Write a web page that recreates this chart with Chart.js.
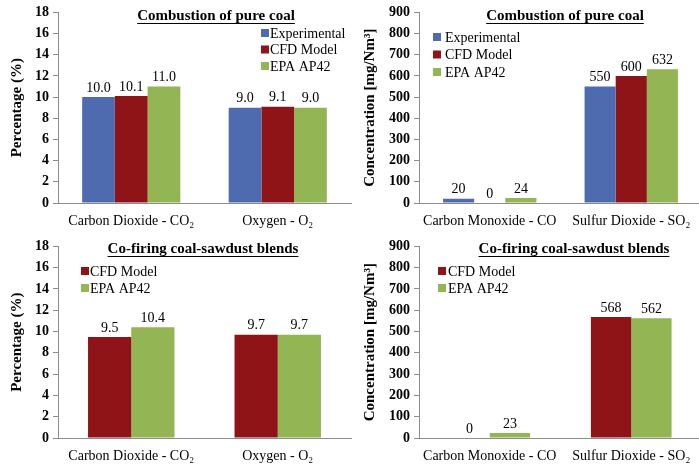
<!DOCTYPE html>
<html>
<head>
<meta charset="utf-8">
<script src="https://cdn.jsdelivr.net/npm/chart.js@4.4.1/dist/chart.umd.min.js"></script>
<style>
  html, body { margin: 0; padding: 0; background: #fff; overflow: hidden; }
  #page { position: relative; width: 699px; height: 467px; overflow: hidden; background: #fff; }
  canvas { position: absolute; }
</style>
</head>
<body>
<div id="page">
  <canvas id="c1" width="352" height="234" style="left:0;top:0"></canvas>
  <canvas id="c2" width="352" height="234" style="left:350px;top:0"></canvas>
  <canvas id="c3" width="352" height="233" style="left:0;top:234px"></canvas>
  <canvas id="c4" width="352" height="233" style="left:350px;top:234px"></canvas>
</div>
<script>
// categories
const gasCategories = ["Carbon Dioxide - CO₂", "Oxygen - O₂"];
const pollutantCategories = ["Carbon Monoxide - CO", "Sulfur Dioxide - SO₂"];

// combustion of pure coal
const pureExpGas = [10.0, 9.0];
const pureCfdGas = [10.1, 9.1];
const pureEpaGas = [11.0, 9.0];
const pureExpPollutant = [20, 550];
const pureCfdPollutant = [0, 600];
const pureEpaPollutant = [24, 632];

// co-firing coal-sawdust blends
const blendCfdGas = [9.5, 9.7];
const blendEpaGas = [10.4, 9.7];
const blendCfdPollutant = [0, 568];
const blendEpaPollutant = [23, 562];

// axes
const percentTicks = { min: 0, max: 18, step: 2 };
const concTicks = { min: 0, max: 900, step: 100 };

const BLUE = "#4f6bb0";
const RED = "#8e1418";
const GREEN = "#93b553";
const AXIS = "#8c8c8c";
const SERIF = '"Liberation Serif", "Times New Roman", serif';

// titre, légende et valeurs au-dessus des barres
const panelDecor = {
  id: "panelDecor",
  afterDatasetsDraw(chart, args, opts) {
    const ctx = chart.ctx;
    ctx.save();
    ctx.fillStyle = "#000";

    // valeurs
    ctx.font = "14px " + SERIF;
    ctx.textAlign = "center";
    ctx.textBaseline = "bottom";
    chart.data.datasets.forEach((ds, i) => {
      chart.getDatasetMeta(i).data.forEach((bar, j) => {
        ctx.fillText(ds.data[j].toFixed(opts.decimals), bar.x, bar.y - 2);
      });
    });

    // titre souligné
    ctx.font = "bold 15px " + SERIF;
    ctx.textBaseline = "middle";
    ctx.fillText(opts.title, opts.titleX, opts.titleY);
    const w = ctx.measureText(opts.title).width;
    ctx.fillRect(opts.titleX - w / 2, opts.titleY + 7, w, 1);

    // légende
    ctx.font = "14px " + SERIF;
    ctx.textAlign = "left";
    chart.data.datasets.forEach((ds, i) => {
      const y = opts.legendY + i * opts.legendGap;
      ctx.fillStyle = ds.backgroundColor;
      ctx.fillRect(opts.legendX, y - 4, 8, 8);
      ctx.fillStyle = "#000";
      ctx.fillText(ds.label, opts.legendX + opts.textGap, y + 1);
    });
    ctx.restore();
  },
};

function makePanel(id, labels, datasets, cfg) {
  new Chart(document.getElementById(id), {
    type: "bar",
    data: { labels, datasets },
    plugins: [panelDecor],
    options: {
      responsive: false,
      animation: false,
      layout: { padding: { top: 12, right: cfg.padRight, left: 0, bottom: 0 } },
      datasets: {
        bar: { categoryPercentage: cfg.groupWidth, barPercentage: 1, borderWidth: 0 },
      },
      plugins: {
        legend: { display: false },
        tooltip: { enabled: false },
        panelDecor: cfg.decor,
      },
      scales: {
        x: {
          grid: { display: false },
          border: { display: true, color: AXIS, width: 1 },
          ticks: {
            color: "#000", padding: 2, maxRotation: 0, autoSkip: false,
            font: { family: SERIF, size: 14 },
          },
          afterFit: (s) => { s.height = cfg.xHeight; },
        },
        y: {
          min: cfg.ticks.min,
          max: cfg.ticks.max,
          grid: { drawOnChartArea: false, drawTicks: true, tickLength: 5, color: AXIS },
          border: { display: true, color: AXIS, width: 1 },
          ticks: {
            stepSize: cfg.ticks.step,
            color: "#000",
            padding: 4,
            font: { family: SERIF, size: 14, weight: "bold" },
          },
          title: {
            display: true,
            text: cfg.yTitle,
            color: "#000",
            padding: { top: cfg.titlePad, bottom: 0 },
            font: { family: SERIF, size: 15, weight: "bold" },
          },
          afterFit: (s) => { s.width = cfg.yWidth; },
        },
      },
    },
  });
}

makePanel("c1", gasCategories, [
  { label: "Experimental", data: pureExpGas, backgroundColor: BLUE },
  { label: "CFD Model", data: pureCfdGas, backgroundColor: RED },
  { label: "EPA AP42", data: pureEpaGas, backgroundColor: GREEN },
], {
  ticks: percentTicks, yTitle: "Percentage (%)", yWidth: 58, xHeight: 31, padRight: 1,
  titlePad: 8, groupWidth: 0.67,
  decor: { decimals: 1, title: "Combustion of pure coal", titleX: 216, titleY: 16,
    legendX: 261, legendY: 33, legendGap: 16.5, textGap: 9 },
});

makePanel("c2", pollutantCategories, [
  { label: "Experimental", data: pureExpPollutant, backgroundColor: BLUE },
  { label: "CFD Model", data: pureCfdPollutant, backgroundColor: RED },
  { label: "EPA AP42", data: pureEpaPollutant, backgroundColor: GREEN },
], {
  ticks: concTicks, yTitle: "Concentration [mg/Nm³]", yWidth: 69, xHeight: 31, padRight: 0,
  titlePad: 11, groupWidth: 0.66,
  decor: { decimals: 0, title: "Combustion of pure coal", titleX: 215, titleY: 16,
    legendX: 83, legendY: 37, legendGap: 17.5, textGap: 12 },
});

makePanel("c3", gasCategories, [
  { label: "CFD Model", data: blendCfdGas, backgroundColor: RED },
  { label: "EPA AP42", data: blendEpaGas, backgroundColor: GREEN },
], {
  ticks: percentTicks, yTitle: "Percentage (%)", yWidth: 58, xHeight: 29, padRight: 1,
  titlePad: 8, groupWidth: 0.59,
  decor: { decimals: 1, title: "Co-firing coal-sawdust blends", titleX: 203, titleY: 15,
    legendX: 81, legendY: 37, legendGap: 17, textGap: 9 },
});

makePanel("c4", pollutantCategories, [
  { label: "CFD Model", data: blendCfdPollutant, backgroundColor: RED },
  { label: "EPA AP42", data: blendEpaPollutant, backgroundColor: GREEN },
], {
  ticks: concTicks, yTitle: "Concentration [mg/Nm³]", yWidth: 69, xHeight: 29, padRight: 0,
  titlePad: 11, groupWidth: 0.57,
  decor: { decimals: 0, title: "Co-firing coal-sawdust blends", titleX: 224, titleY: 15,
    legendX: 88, legendY: 37, legendGap: 17, textGap: 10 },
});
</script>
</body>
</html>
